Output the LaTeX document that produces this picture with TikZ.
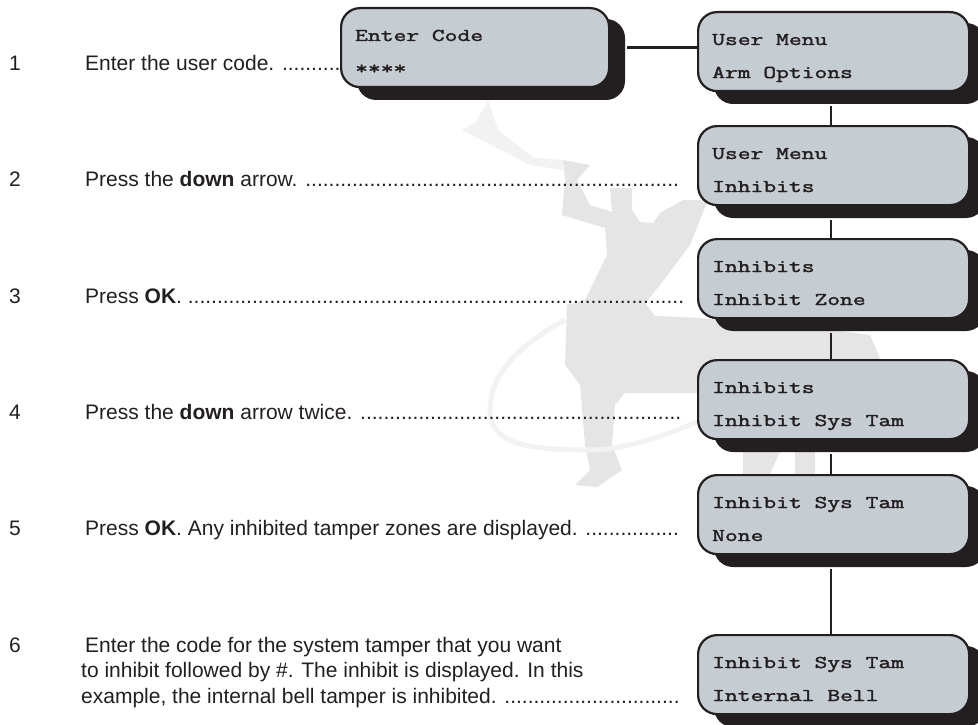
\documentclass[tikz,border=0pt]{standalone}
\usepackage{fontspec}
\usetikzlibrary{calc}
\setmainfont{Liberation Sans}
\newfontfamily\lcdfont[FakeStretch=1.38,FakeBold=2]{Latin Modern Mono}
\definecolor{ink}{HTML}{231F20}
\definecolor{lcd}{HTML}{C5CCD2}
\definecolor{wmark}{HTML}{E6E5E6}
\definecolor{wfaint}{HTML}{F3F2F3}
\tikzset{
  x=1pt,y=-1pt,
  steptext/.style={anchor=base west,inner sep=0pt,text=ink,font=\fontsize{21}{21}\selectfont},
  lcdbox/.style={draw=ink,line width=2.2pt,fill=lcd,rounded corners=19pt,anchor=north west,minimum height=79pt,inner sep=0pt},
  lcdshadow/.style={fill=ink,rounded corners=19pt},
  lcdline/.style={anchor=base west,inner sep=0pt,text=ink,font=\fontsize{18}{18}\lcdfont\bfseries},
  link/.style={draw=ink,line width=2.2pt},
}
\newcommand{\display}[6]{% name,x,y,w,line1,line2
  \fill[lcdshadow] (#2+17,#3+12) rectangle (#2+#4+17,#3+93);
  \node[lcdbox,minimum width=#4 pt] (#1) at (#2,#3) {};
  \node[lcdline] (#1a) at (#2+15,#3+34) {#5};
  \node[lcdline] (#1b) at (#2+15,#3+67) {#6};
}
\begin{document}
\begin{tikzpicture}
\useasboundingbox (0,0) rectangle (978,725);
\fill[wfaint] (488,100) -- (476,122) -- (462,130) -- (530,165) -- (563,170) -- (563,160) -- (534,158) -- (498,130) -- cycle;
\fill[wmark] (563,160) -- (565,178) -- (562,215) -- (605,228) -- (607,255) -- (585,300) -- (567,305) -- (565,365) -- (580,385) -- (585,445) -- (590,470) -- (575,485) -- (597,487) -- (622,470) -- (612,445) -- (615,405) -- (625,393) -- (700,393) -- (743,430) -- (743,474) -- (770,474) -- (780,452) -- (795,452) -- (795,474) -- (815,474) -- (815,430) -- (850,393) -- (880,358) -- (870,335) -- (840,331) -- (700,318) -- (655,316) -- (645,303) -- (660,285) -- (690,245) -- (708,200) -- (683,200) -- (660,213) -- (653,223) -- (640,222) -- (632,210) -- (632,188) -- (610,188) -- (612,212) -- (590,205) -- (577,180) -- (590,165) -- cycle;
\draw[wfaint,line width=5pt] (565,320) .. controls (510,350) and (490,380) .. (490,410) .. controls (490,445) and (530,450) .. (590,450) .. controls (630,450) and (680,430) .. (700,420);
\node[steptext] (n1) at (9,70.5) {1};
\node[steptext] (t1) at (85,70.5) {Enter the user code. ..........};
\node[steptext] (n2) at (9,186) {2};
\node[steptext] (t2) at (85,186) {Press the \textbf{down} arrow. ................................................................};
\node[steptext] (n3) at (9,303) {3};
\node[steptext] (t3) at (85,303) {Press \textbf{OK}. .....................................................................................};
\node[steptext] (n4) at (9,419) {4};
\node[steptext] (t4) at (85,419) {Press the \textbf{down} arrow twice. .......................................................};
\node[steptext] (n5) at (9,535) {5};
\node[steptext] (t5) at (85,535) {Press \textbf{OK}. Any inhibited tamper zones are displayed. ................};
\node[steptext] (n6) at (9,652) {6};
\node[steptext] (t6a) at (85,652) {Enter the code for the system tamper that you want};
\node[steptext] (t6b) at (81,677) {to inhibit followed by \#. The inhibit is displayed. In this};
\node[steptext] (t6c) at (81,703) {example, the internal bell tamper is inhibited. ..............................};
\display{b0}{340}{7}{268}{Enter Code}{****}
\display{b1}{697}{11}{271}{User Menu}{Arm Options}
\display{b2}{697}{125}{271}{User Menu}{Inhibits}
\display{b3}{697}{238}{271}{Inhibits}{Inhibit Zone}
\display{b4}{697}{359}{271}{Inhibits}{Inhibit Sys Tam}
\display{b5}{697}{474}{271}{Inhibit Sys Tam}{None}
\display{b6}{697}{634}{271}{Inhibit Sys Tam}{Internal Bell}
\coordinate (c0) at ($(b0.east)+(17,0)$);
\draw[link] (c0) -- (c0 -| b1.west);
\foreach \u/\v in {b1/b2,b2/b3,b3/b4,b4/b5,b5/b6}{
  \draw[link] ($(\u.south)+(-2.5,14)$) -- ($(\v.north)+(-2.5,0)$);
}
\end{tikzpicture}
\end{document}
